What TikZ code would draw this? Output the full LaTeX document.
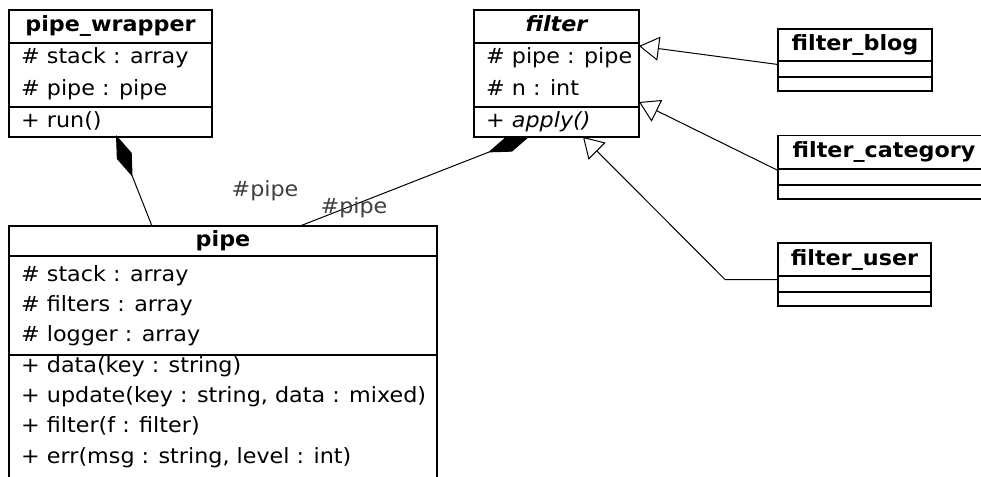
\documentclass[tikz,border=0pt]{standalone}
\usepackage{fontspec}
\setmainfont{DejaVu Sans}[FakeStretch=1.06]
\usetikzlibrary{arrows.meta}

\newcommand\umltext{\fontsize{21}{25}\selectfont}

\tikzset{
  comp/.style={draw, line width=1.7pt, fill=white, anchor=north west,
               inner sep=0pt, outer sep=0pt},
  ttl/.style={font=\umltext\bfseries, inner sep=0pt, text height=15pt, text depth=4pt},
  mem/.style={font=\umltext, anchor=west, inner sep=0pt, text height=15pt, text depth=4pt},
  role/.style={font=\umltext, text=black!75, inner sep=0pt},
  conn/.style={line width=1pt},
  compose/.style={conn, -{Diamond[length=45pt, width=16pt, fill=black]}},
  composeback/.style={conn, {Diamond[length=45pt, width=16pt, fill=black]}-},
  inherit/.style={conn, -{Triangle[open, length=20pt, width=24pt, fill=white]}},
}

\begin{document}
\begin{tikzpicture}[x=1pt, y=-1pt]
\useasboundingbox (0,0) rectangle (981,476);
\clip (0,0) rectangle (981,476);
\fill[white] (0,0) rectangle (981,476);

% ---------- class pipe_wrapper ----------
\node[comp, minimum width=203pt, minimum height=33pt] (pwt) at (9,10) {};
\node[comp, minimum width=203pt, minimum height=64pt] (pwa) at (9,43) {};
\node[comp, minimum width=203pt, minimum height=30pt] (pwo) at (9,107) {};

% ---------- class filter ----------
\node[comp, minimum width=165pt, minimum height=33pt] (ft) at (474,10) {};
\node[comp, minimum width=165pt, minimum height=64pt] (fa) at (474,43) {};
\node[comp, minimum width=165pt, minimum height=30pt] (fo) at (474,107) {};

% ---------- class pipe (runs on below the page) ----------
\node[comp, minimum width=428pt, minimum height=30pt] (pt) at (9,226) {};
\node[comp, minimum width=428pt, minimum height=99pt] (pa) at (9,256) {};
\node[comp, minimum width=428pt, minimum height=140pt] (po) at (9,355) {};

% ---------- subclasses of filter ----------
\node[comp, minimum width=154pt, minimum height=32pt] (fbt) at (778,29) {};
\node[comp, minimum width=154pt, minimum height=16pt] (fba) at (778,61) {};
\node[comp, minimum width=154pt, minimum height=14pt] (fbo) at (778,77) {};

\node[comp, minimum width=212pt, minimum height=33.5pt] (fct) at (778,135.5) {};
\node[comp, minimum width=212pt, minimum height=16pt] (fca) at (778,169) {};
\node[comp, minimum width=212pt, minimum height=14pt] (fco) at (778,185) {};

\node[comp, minimum width=153pt, minimum height=33pt] (fut) at (778,243) {};
\node[comp, minimum width=153pt, minimum height=16pt] (fua) at (778,276) {};
\node[comp, minimum width=153pt, minimum height=14pt] (fuo) at (778,292) {};

% ---------- compositions and generalizations ----------
\draw[composeback] ([xshift=107pt, yshift=2pt]pwo.south west) -- ([xshift=143pt]pt.north west);
\draw[compose] ([xshift=291pt]pt.north west) -- ([xshift=56pt, yshift=1pt]fo.south west);
\draw[inherit] ([yshift=-3.5pt]fbt.south west) -- ([yshift=-3pt]fa.north east);
\draw[inherit] ([yshift=-1.5pt]fct.south west) -- ([yshift=5pt]fo.north east);
\draw[inherit] ([yshift=-3.5pt]fut.south west) -- ++(-53,0) -- ([xshift=109pt]fo.south west);

% the diamonds start inside their owners: restore the bottom borders
\draw[line width=1.7pt] (pwo.south west) -- (pwo.south east);
\draw[line width=1.7pt] (fo.south west) -- (fo.south east);

% ---------- texts ----------
\node[ttl] (pwtx) at (pwt.center) {pipe\_wrapper};
\node[mem] (pw1) at (21,58) {\# stack : array};
\node[mem] (pw2) at (21,90) {\# pipe : pipe};
\node[mem] (pw3) at (21,122) {+ run()};

\node[ttl, font=\umltext\bfseries\itshape] (ftx) at (ft.center) {filter};
\node[mem] (f1) at (486,58) {\# pipe : pipe};
\node[mem] (f2) at (486,90) {\# n : int};
\node[mem] (f3) at (486,122) {+ \textit{apply()}};

\node[ttl] (ptx) at (pt.center) {pipe};
\node[mem] (p1) at (21,276) {\# stack : array};
\node[mem] (p2) at (21,306) {\# filters : array};
\node[mem] (p3) at (21,336) {\# logger : array};
\node[mem] (p4) at (21,367) {+ data(key : string)};
\node[mem] (p5) at (21,397) {+ update(key : string, data : mixed)};
\node[mem] (p6) at (21,427) {+ filter(f : filter)};
\node[mem] (p7) at (21,458) {+ err(msg : string, level : int)};

\node[ttl] (fbtx) at (fbt.center) {filter\_blog};
\node[ttl] (fctx) at (fct.center) {filter\_category};
\node[ttl] (futx) at (fut.center) {filter\_user};

\node[role] (r1) at (265,191) {\#pipe};
\node[role] (r2) at (354,208) {\#pipe};
\end{tikzpicture}
\end{document}
